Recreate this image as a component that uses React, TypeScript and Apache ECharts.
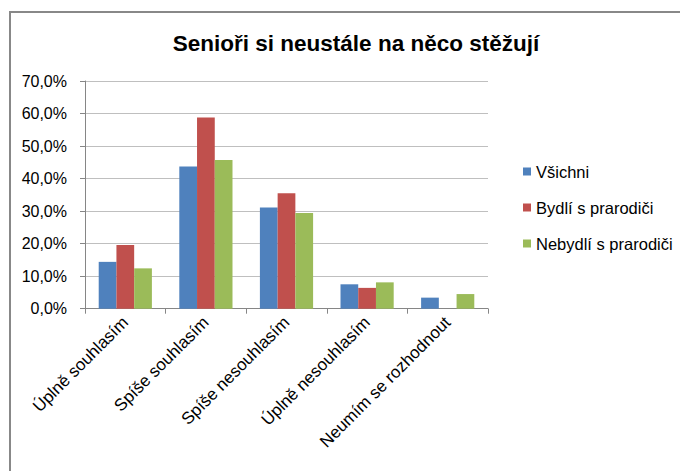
import React, { useEffect, useRef } from "react";
import * as echarts from "echarts";

const categories = [
  "Úplně souhlasím",
  "Spíše souhlasím",
  "Spíše nesouhlasím",
  "Úplně nesouhlasím",
  "Neumím se rozhodnout",
];
const vsichni = [14.4, 43.7, 31.1, 7.5, 3.4];
const bydli = [19.6, 58.8, 35.5, 6.4, 0];
const nebydli = [12.4, 45.7, 29.4, 8.1, 4.5];
const seriesNames = ["Všichni", "Bydlí s prarodiči", "Nebydlí s prarodiči"];
const colors = ["#4F81BD", "#C0504D", "#9BBB59"];
const titleText = "Senioři si neustále na něco stěžují";

const FONT = "'Liberation Sans', Arial, sans-serif";

export default function App() {
  const ref = useRef<HTMLDivElement>(null);
  useEffect(() => {
    if (!ref.current) return;
    const chart = echarts.init(ref.current, null, { renderer: "svg" });
    const data = [vsichni, bydli, nebydli];
    chart.setOption({
      animation: false,
      backgroundColor: "#ffffff",
      textStyle: { fontFamily: FONT },
      title: {
        text: titleText,
        left: 351,
        textAlign: "center",
        top: 27,
        textStyle: {
          fontFamily: FONT,
          fontSize: 22.5,
          fontWeight: "bold",
          color: "#000000",
        },
      },
      graphic: [
        {
          type: "rect",
          shape: { x: 10, y: 12, width: 720, height: 520 },
          style: { fill: "none", stroke: "#888888", lineWidth: 2 },
          silent: true,
          z: 100,
        },
      ],
      legend: {
        orient: "vertical",
        left: 518,
        top: 158,
        itemWidth: 8,
        itemHeight: 8,
        itemGap: 19,
        icon: "rect",
        data: seriesNames,
        textStyle: {
          fontFamily: FONT,
          fontSize: 16.5,
          color: "#000000",
          lineHeight: 16,
        },
      },
      grid: {
        left: 85,
        right: 192,
        top: 81,
        bottom: 162.3,
        containLabel: false,
      },
      xAxis: {
        type: "category",
        data: categories,
        axisLine: { lineStyle: { color: "#868686", width: 1 } },
        axisTick: {
          show: true,
          length: 5,
          lineStyle: { color: "#868686" },
        },
        axisLabel: {
          rotate: 45,
          interval: 0,
          margin: 11,
          fontFamily: FONT,
          fontSize: 17,
          color: "#000000",
        },
      },
      yAxis: {
        type: "value",
        min: 0,
        max: 70,
        interval: 10,
        axisLine: { show: true, lineStyle: { color: "#868686", width: 1 } },
        axisTick: {
          show: true,
          length: 5,
          lineStyle: { color: "#868686" },
        },
        splitLine: { lineStyle: { color: "#BFBFBF", width: 1 } },
        axisLabel: {
          margin: 18,
          fontFamily: FONT,
          fontSize: 16,
          color: "#000000",
          formatter: (v: number) => v.toFixed(1).replace(".", ",") + "%",
        },
      },
      series: seriesNames.map((name, i) => ({
        name,
        type: "bar",
        data: data[i],
        barGap: "0%",
        barCategoryGap: "34%",
        itemStyle: { color: colors[i] },
      })),
    });
    return () => chart.dispose();
  }, []);
  return (
    <div
      ref={ref}
      style={{ position: "fixed", left: 0, top: 0, width: 680, height: 471 }}
    />
  );
}
